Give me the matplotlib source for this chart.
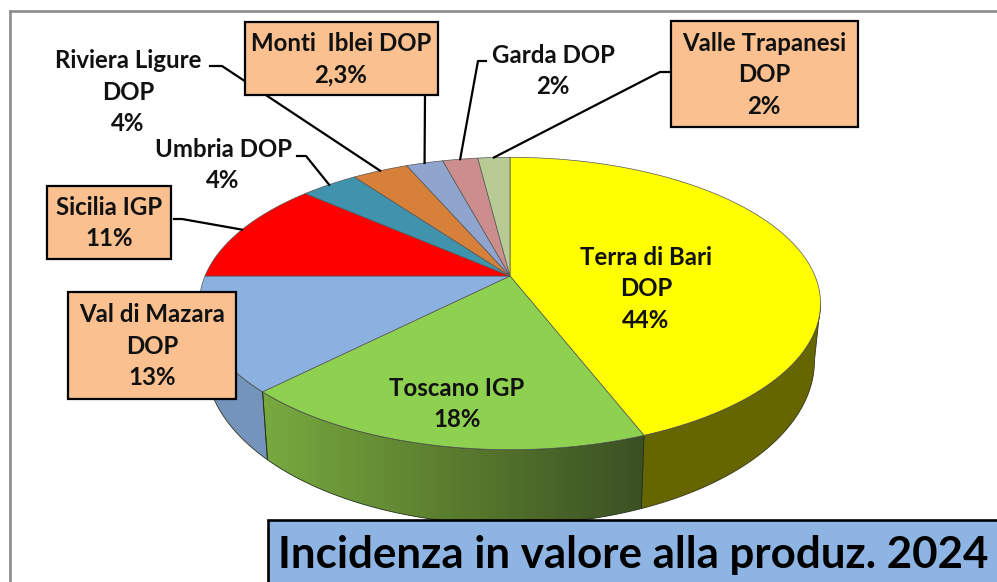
import numpy as np
import matplotlib

matplotlib.use("Agg")
import matplotlib.pyplot as plt
from matplotlib.colors import LinearSegmentedColormap
from matplotlib.patches import Polygon, Rectangle

plt.rcParams["font.family"] = ["Lato", "DejaVu Sans"]

# clockwise from 12 o'clock, values
names = ["Terra di Bari", "Toscano IGP", "Val di Mazara", "Sicilia IGP", "Umbria DOP",
         "Riviera Ligure", "Monti Iblei", "Garda DOP", "Valle Trapanesi"]
values = [44.1, 18.3, 12.6, 11.4, 3.6, 3.5, 2.3, 2.2, 2.0]
labels = ["Terra di Bari\nDOP\n44%", "Toscano IGP\n18%", "Val di Mazara\nDOP\n13%",
          "Sicilia IGP\n11%", "Umbria DOP\n4%", "Riviera Ligure\nDOP\n4%",
          "Monti  Iblei DOP\n2,3%", "Garda DOP\n2%", "Valle Trapanesi\nDOP\n2%"]
colors = ["#ffff00", "#8ed04f", "#8bb1e0", "#ff0000", "#3f93ad",
          "#d6803a", "#8fa5cd", "#cc8d8d", "#b9cb95"]
wall_colors = ["#666600", None, "#7494bc", "#a00000", "#2a6a80",
               "#96592a", "#66769a", "#946464", "#84936a"]
title = "Incidenza in valore alla produz. 2024"

BOX = "#fac090"
TITLE_BOX = "#8db4e2"
K = 0.188  # perspective of the tilted disc
SILHOUETTE = np.degrees(np.arccos(-K))


def project(t, cx, cy, rx, ry):
    """Angle (deg, clockwise from top) to pixel position on a tilted circle."""
    t = np.radians(t)
    u, v = np.sin(t), np.cos(t)
    w = 1 + K * v
    return cx + rx * u / w, cy - ry * v / w


def top_rim(t):
    return project(t, 510, 276, 305, 141)


def bottom_rim(t):
    return project(t, 510, 330, 299, 158)


fig = plt.figure(figsize=(9.97, 5.82), dpi=100, facecolor="white")
ax = fig.add_axes([0, 0, 1, 1])
ax.axis("off")

# chart frame
ax.plot([9.5, 9.5], [590, 10.5], color="#8c8c8c", lw=1.9, zorder=1)
ax.plot([9.5, 1000], [10.5, 10.5], color="#8c8c8c", lw=1.9, zorder=1)

edges = np.concatenate([[0], np.cumsum(values) / np.sum(values) * 360])

# side walls, only the front part of the disc shows
for i in range(len(values)):
    a, b = max(edges[i], SILHOUETTE), min(edges[i + 1], 360 - SILHOUETTE)
    if a >= b:
        continue
    t = np.linspace(a, b, 120)
    xt, yt = top_rim(t)
    xb, yb = bottom_rim(t)
    pts = np.column_stack([np.r_[xt, xb[::-1]], np.r_[yt, yb[::-1]]])
    if wall_colors[i] is None:
        cm = LinearSegmentedColormap.from_list("wall", ["#78aa40", "#5a7c2e", "#3a5024"])
        poly = Polygon(pts, closed=True, fc="none", ec="#22301a", lw=0.6, zorder=3)
        ax.add_patch(poly)
        im = ax.imshow(np.linspace(0, 1, 256)[None, :], cmap=cm, aspect="auto", zorder=2.5,
                       extent=(pts[:, 0].min(), pts[:, 0].max(), pts[:, 1].max(), pts[:, 1].min()))
        im.set_clip_path(poly)
    else:
        ax.add_patch(Polygon(pts, closed=True, fc=wall_colors[i], ec="#33331a", lw=0.6, zorder=2.5))

# top face
for i in range(len(values)):
    t = np.linspace(edges[i], edges[i + 1], 160)
    x, y = top_rim(t)
    pts = np.column_stack([np.r_[510, x], np.r_[276, y]])
    ax.add_patch(Polygon(pts, closed=True, fc=colors[i], ec="#555555", lw=0.5, zorder=4))

# leader lines: label side points, then the middle of the slice rim
mids = (edges[:-1] + edges[1:]) / 2
leaders = {3: [(174, 219), (182, 219)], 4: [(297, 156), (306, 156)],
           5: [(210, 66), (222, 66)], 6: [(425, 95)],
           7: [(486, 61), (478, 61)], 8: [(671, 72), (660, 72)]}
for i, pts in leaders.items():
    ex, ey = top_rim(mids[i])
    ax.plot([p[0] for p in pts] + [ex], [p[1] for p in pts] + [ey],
            color="black", lw=1.6, zorder=5, solid_joinstyle="round")

# label boxes: x0, y0, x1, y1
boxes = {3: (47, 186, 171, 259), 2: (68, 292, 236, 399),
         6: (245, 22, 438, 95), 8: (671, 21, 858, 127)}
for x0, y0, x1, y1 in boxes.values():
    ax.add_patch(Rectangle((x0, y0), x1 - x0, y1 - y0, fc=BOX, ec="black", lw=1.6, zorder=6))

label_pos = [(646, 289), (457, 404), (152, 346), (109, 223), (223, 165),
             (128, 92), (341, 59), (553, 71), (764, 75)]
for i, (lx, ly) in enumerate(label_pos):
    ax.text(lx, ly, labels[i], ha="center", va="center", fontsize=17.3, fontweight="bold",
            color="#111111", linespacing=1.45, zorder=7)

# title box runs off the picture
ax.add_patch(Rectangle((268, 519.5), 760, 80, fc=TITLE_BOX, ec="black", lw=1.9, zorder=8))
ax.text(278, 555, title, ha="left", va="center", fontsize=31.6, fontweight="bold",
        color="black", zorder=9, clip_on=True)

ax.set_xlim(0, 997)
ax.set_ylim(582, 0)
fig.savefig("out.png", dpi=100, facecolor="white")
plt.close(fig)
